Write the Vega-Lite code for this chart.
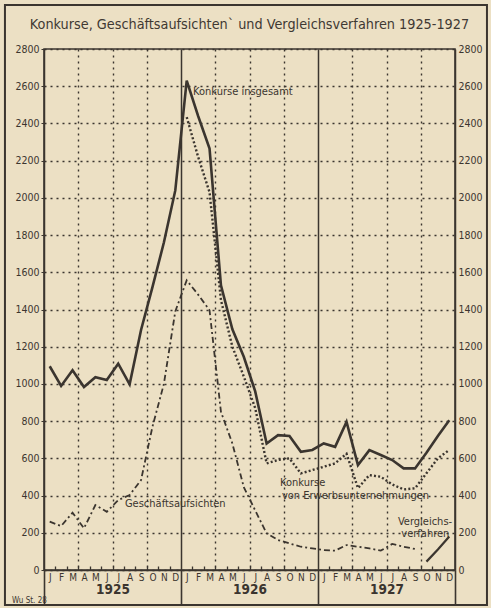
{
  "$schema": "https://vega.github.io/schema/vega-lite/v6.json",
  "width": 411,
  "height": 521,
  "autosize": {"type": "none"},
  "padding": {"left": 44, "top": 49, "right": 36, "bottom": 38},
  "background": "#ece0c4",
  "config": {
    "view": {"stroke": "#3b352f", "strokeWidth": 1.6},
    "font": "DejaVu Sans Condensed",
    "axis": {"labelColor": "#3b352f", "labelFont": "DejaVu Sans Condensed", "title": null}
  },
  "title": {
    "text": "Konkurse, Geschäftsaufsichten` und Vergleichsverfahren 1925-1927",
    "font": "DejaVu Sans Condensed",
    "fontSize": 14.3,
    "fontWeight": "normal",
    "color": "#3f3933",
    "anchor": "middle",
    "frame": "group",
    "offset": -28
  },
  "datasets": {
    "series": [
      {"t": 0.5, "s": "total", "v": 1095}, {"t": 1.5, "s": "total", "v": 989}, {"t": 2.5, "s": "total", "v": 1073},
      {"t": 3.5, "s": "total", "v": 983}, {"t": 4.5, "s": "total", "v": 1036}, {"t": 5.5, "s": "total", "v": 1021},
      {"t": 6.5, "s": "total", "v": 1109}, {"t": 7.5, "s": "total", "v": 998}, {"t": 8.5, "s": "total", "v": 1290},
      {"t": 9.5, "s": "total", "v": 1520}, {"t": 10.5, "s": "total", "v": 1760}, {"t": 11.5, "s": "total", "v": 2040},
      {"t": 12.5, "s": "total", "v": 2630}, {"t": 13.5, "s": "total", "v": 2440}, {"t": 14.5, "s": "total", "v": 2265},
      {"t": 15.5, "s": "total", "v": 1530}, {"t": 16.5, "s": "total", "v": 1294}, {"t": 17.5, "s": "total", "v": 1146},
      {"t": 18.5, "s": "total", "v": 960}, {"t": 19.5, "s": "total", "v": 680}, {"t": 20.5, "s": "total", "v": 725},
      {"t": 21.5, "s": "total", "v": 720}, {"t": 22.5, "s": "total", "v": 635}, {"t": 23.5, "s": "total", "v": 645},
      {"t": 24.5, "s": "total", "v": 680}, {"t": 25.5, "s": "total", "v": 662}, {"t": 26.5, "s": "total", "v": 796},
      {"t": 27.5, "s": "total", "v": 564}, {"t": 28.5, "s": "total", "v": 644}, {"t": 29.5, "s": "total", "v": 618},
      {"t": 30.5, "s": "total", "v": 591}, {"t": 31.5, "s": "total", "v": 546}, {"t": 32.5, "s": "total", "v": 546},
      {"t": 33.5, "s": "total", "v": 630}, {"t": 34.5, "s": "total", "v": 720}, {"t": 35.5, "s": "total", "v": 805},

      {"t": 12.5, "s": "erwerb", "v": 2434}, {"t": 13.5, "s": "erwerb", "v": 2220}, {"t": 14.5, "s": "erwerb", "v": 2030},
      {"t": 15.5, "s": "erwerb", "v": 1450}, {"t": 16.5, "s": "erwerb", "v": 1200}, {"t": 17.5, "s": "erwerb", "v": 1040},
      {"t": 18.5, "s": "erwerb", "v": 870}, {"t": 19.5, "s": "erwerb", "v": 573}, {"t": 20.5, "s": "erwerb", "v": 591},
      {"t": 21.5, "s": "erwerb", "v": 600}, {"t": 22.5, "s": "erwerb", "v": 519}, {"t": 23.5, "s": "erwerb", "v": 537},
      {"t": 24.5, "s": "erwerb", "v": 555}, {"t": 25.5, "s": "erwerb", "v": 573}, {"t": 26.5, "s": "erwerb", "v": 625},
      {"t": 27.5, "s": "erwerb", "v": 440}, {"t": 28.5, "s": "erwerb", "v": 510}, {"t": 29.5, "s": "erwerb", "v": 501},
      {"t": 30.5, "s": "erwerb", "v": 460}, {"t": 31.5, "s": "erwerb", "v": 433}, {"t": 32.5, "s": "erwerb", "v": 439},
      {"t": 33.5, "s": "erwerb", "v": 520}, {"t": 34.5, "s": "erwerb", "v": 600}, {"t": 35.5, "s": "erwerb", "v": 645},

      {"t": 0.5, "s": "gesch", "v": 260}, {"t": 1.5, "s": "gesch", "v": 236}, {"t": 2.5, "s": "gesch", "v": 308},
      {"t": 3.5, "s": "gesch", "v": 224}, {"t": 4.5, "s": "gesch", "v": 349}, {"t": 5.5, "s": "gesch", "v": 313},
      {"t": 6.5, "s": "gesch", "v": 376}, {"t": 7.5, "s": "gesch", "v": 403}, {"t": 8.5, "s": "gesch", "v": 483},
      {"t": 9.5, "s": "gesch", "v": 770}, {"t": 10.5, "s": "gesch", "v": 1000}, {"t": 11.5, "s": "gesch", "v": 1390},
      {"t": 12.5, "s": "gesch", "v": 1557}, {"t": 13.5, "s": "gesch", "v": 1480}, {"t": 14.5, "s": "gesch", "v": 1396},
      {"t": 15.5, "s": "gesch", "v": 850}, {"t": 16.5, "s": "gesch", "v": 680}, {"t": 17.5, "s": "gesch", "v": 445},
      {"t": 18.5, "s": "gesch", "v": 320}, {"t": 19.5, "s": "gesch", "v": 197}, {"t": 20.5, "s": "gesch", "v": 161},
      {"t": 21.5, "s": "gesch", "v": 143}, {"t": 22.5, "s": "gesch", "v": 125}, {"t": 23.5, "s": "gesch", "v": 116},
      {"t": 24.5, "s": "gesch", "v": 107}, {"t": 25.5, "s": "gesch", "v": 104}, {"t": 26.5, "s": "gesch", "v": 134},
      {"t": 27.5, "s": "gesch", "v": 125}, {"t": 28.5, "s": "gesch", "v": 116}, {"t": 29.5, "s": "gesch", "v": 104},
      {"t": 30.5, "s": "gesch", "v": 140}, {"t": 31.5, "s": "gesch", "v": 125}, {"t": 32.5, "s": "gesch", "v": 113},

      {"t": 33.5, "s": "vergl", "v": 45}, {"t": 34.5, "s": "vergl", "v": 110}, {"t": 35.5, "s": "vergl", "v": 180}
    ],
    "labels": [
      {"t": 13.05, "v": 2567, "text": "Konkurse insgesamt"},
      {"t": 7.09, "v": 354, "text": "Geschäftsaufsichten"},
      {"t": 20.67, "v": 467, "text": "Konkurse"},
      {"t": 20.84, "v": 397, "text": "von Erwerbsunternehmungen"},
      {"t": 31.0, "v": 258, "text": "Vergleichs-"},
      {"t": 31.3, "v": 193, "text": "verfahren"}
    ],
    "small": [
      {"t": -2.8, "v": -166, "text": "Wu St. 28"}
    ],
    "frame": [
      {"x1": -3.42, "x2": 38.8, "y1": -188, "y2": 3036}
    ]
  },
  "layer": [
    {
      "data": {"name": "frame"},
      "mark": {"type": "rect", "fill": null, "stroke": "#3b352f", "strokeWidth": 2, "clip": false},
      "encoding": {
        "x": {"field": "x1", "type": "quantitative", "scale": {"domain": [0, 36], "nice": false, "zero": false}, "axis": null},
        "x2": {"field": "x2"},
        "y": {"field": "y1", "type": "quantitative", "scale": {"domain": [0, 2800], "nice": false}, "axis": null},
        "y2": {"field": "y2"}
      }
    },
    {
      "data": {"name": "series"},
      "transform": [{"filter": "datum.s == 'gesch'"}],
      "mark": {"type": "line", "stroke": "#3b352f", "strokeWidth": 1.8, "strokeDash": [6, 3, 2, 3]},
      "encoding": {
        "x": {"field": "t", "type": "quantitative",
          "axis": {"orient": "bottom", "values": [3, 6, 9, 15, 18, 21, 27, 30, 33], "grid": true, "gridColor": "#3b352f", "gridWidth": 1.4, "gridDash": [2, 4], "ticks": false, "labels": false, "domain": false}},
        "y": {"field": "v", "type": "quantitative", "axis": null}
      }
    },
    {
      "data": {"name": "series"},
      "transform": [{"filter": "datum.s == 'erwerb'"}],
      "mark": {"type": "line", "stroke": "#3b352f", "strokeWidth": 2.4, "strokeDash": [2, 2.2]},
      "encoding": {
        "x": {"field": "t", "type": "quantitative",
          "axis": {"orient": "bottom", "values": [0, 12, 24, 36], "grid": true, "gridColor": "#3b352f", "gridWidth": 1.5, "gridDash": [], "ticks": true, "tickSize": 35, "tickWidth": 1.6, "tickColor": "#3b352f", "labels": false, "domain": false}},
        "y": {"field": "v", "type": "quantitative",
          "axis": {"orient": "right", "format": "d", "values": [0, 200, 400, 600, 800, 1000, 1200, 1400, 1600, 1800, 2000, 2200, 2400, 2600, 2800], "grid": false, "ticks": false, "domain": false, "labelPadding": 3, "labelFontSize": 10.5}}
      }
    },
    {
      "data": {"name": "series"},
      "transform": [{"filter": "datum.s == 'total'"}],
      "mark": {"type": "line", "stroke": "#3b352f", "strokeWidth": 2.6},
      "encoding": {
        "x": {"field": "t", "type": "quantitative",
          "axis": {"orient": "bottom", "values": [0.5, 1.5, 2.5, 3.5, 4.5, 5.5, 6.5, 7.5, 8.5, 9.5, 10.5, 11.5, 12.5, 13.5, 14.5, 15.5, 16.5, 17.5, 18.5, 19.5, 20.5, 21.5, 22.5, 23.5, 24.5, 25.5, 26.5, 27.5, 28.5, 29.5, 30.5, 31.5, 32.5, 33.5, 34.5, 35.5],
            "labelExpr": "['J','F','M','A','M','J','J','A','S','O','N','D'][floor(datum.value) % 12]",
            "ticks": false, "grid": false, "domain": true, "domainColor": "#3b352f", "domainWidth": 1.6, "labelFontSize": 10, "labelPadding": 2, "labelAngle": 0, "labelOverlap": false, "labelFlush": false}},
        "y": {"field": "v", "type": "quantitative",
          "axis": {"orient": "left", "format": "d", "values": [0, 200, 400, 600, 800, 1000, 1200, 1400, 1600, 1800, 2000, 2200, 2400, 2600, 2800], "grid": true, "gridColor": "#3b352f", "gridWidth": 1.4, "gridDash": [2, 4], "ticks": true, "tickSize": 3, "tickColor": "#3b352f", "domain": false, "labelPadding": 2, "labelFontSize": 10.5}}
      }
    },
    {
      "data": {"name": "series"},
      "transform": [{"filter": "datum.s == 'vergl'"}],
      "mark": {"type": "line", "stroke": "#3b352f", "strokeWidth": 2.2},
      "encoding": {
        "x": {"field": "t", "type": "quantitative",
          "axis": {"orient": "bottom", "values": [1, 2, 3, 4, 5, 6, 7, 8, 9, 10, 11, 13, 14, 15, 16, 17, 18, 19, 20, 21, 22, 23, 25, 26, 27, 28, 29, 30, 31, 32, 33, 34, 35], "ticks": true, "tickSize": -4, "tickWidth": 1.3, "tickColor": "#3b352f", "labels": false, "domain": false, "grid": false}},
        "y": {"field": "v", "type": "quantitative", "axis": null}
      }
    },
    {
      "data": {"name": "labels"},
      "mark": {"type": "text", "align": "left", "baseline": "middle", "fontSize": 11, "color": "#3b352f"},
      "encoding": {
        "x": {"field": "t", "type": "quantitative",
          "axis": {"orient": "bottom", "values": [6, 18, 30], "labelExpr": "datum.value == 6 ? '1925' : (datum.value == 18 ? '1926' : '1927')", "ticks": false, "domain": false, "grid": false, "labelFontSize": 13.5, "labelFontWeight": "bold", "labelPadding": 12, "labelAngle": 0}},
        "y": {"field": "v", "type": "quantitative", "axis": null},
        "text": {"field": "text"}
      }
    },
    {
      "data": {"name": "small"},
      "mark": {"type": "text", "align": "left", "baseline": "middle", "fontSize": 8, "color": "#3b352f"},
      "encoding": {
        "x": {"field": "t", "type": "quantitative", "axis": null},
        "y": {"field": "v", "type": "quantitative", "axis": null},
        "text": {"field": "text"}
      }
    }
  ],
  "resolve": {"axis": {"x": "independent", "y": "independent"}}
}
